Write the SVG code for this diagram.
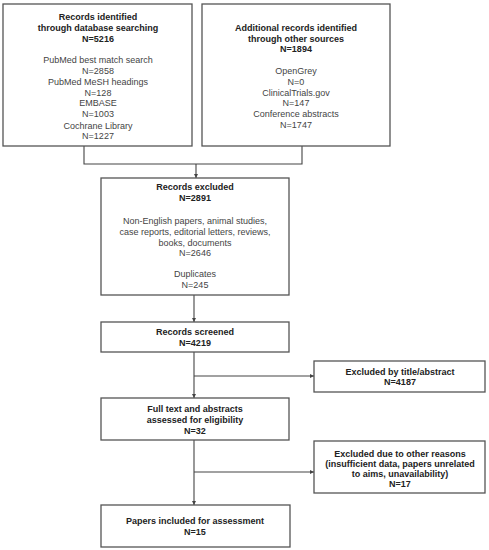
<svg xmlns="http://www.w3.org/2000/svg" width="489" height="550" viewBox="0 0 489 550">
<style>
.box{fill:#fff;stroke:#555;stroke-width:1.3}
.b{font-family:"Liberation Sans",Arial,sans-serif;font-size:9px;font-weight:bold;fill:#222;text-anchor:middle}
.r{font-family:"Liberation Sans",Arial,sans-serif;font-size:9px;fill:#444;text-anchor:middle}
.ln{fill:none;stroke:#444;stroke-width:1.1}
</style>
<defs>
<marker id="ah" viewBox="0 0 6 6" refX="6" refY="3" markerWidth="4" markerHeight="4" orient="auto" markerUnits="userSpaceOnUse">
<path d="M0,0 L6,3 L0,6 z" fill="#444"/>
</marker>
</defs>
<rect width="489" height="550" fill="#fff"/>
<g id="connectors">
<path class="ln" d="M84,146 V164 H302 V146"/>
<path class="ln" d="M196,164 V178" marker-end="url(#ah)"/>
<path class="ln" d="M194,295 V322" marker-end="url(#ah)"/>
<path class="ln" d="M194,352 V398" marker-end="url(#ah)"/>
<path class="ln" d="M194,376 H314" marker-end="url(#ah)"/>
<path class="ln" d="M194,440 V505" marker-end="url(#ah)"/>
<path class="ln" d="M194,472 H314" marker-end="url(#ah)"/>
</g>
<g id="db">
<rect class="box" x="3" y="4" width="189" height="142"/>
<text class="b" x="98" y="20">Records identified</text>
<text class="b" x="98" y="31">through database searching</text>
<text class="b" x="98" y="41.5">N=5216</text>
<text class="r" x="98" y="63">PubMed best match search</text>
<text class="r" x="98" y="74">N=2858</text>
<text class="r" x="98" y="85">PubMed MeSH headings</text>
<text class="r" x="98" y="95.5">N=128</text>
<text class="r" x="98" y="106">EMBASE</text>
<text class="r" x="98" y="117">N=1003</text>
<text class="r" x="98" y="128.5">Cochrane Library</text>
<text class="r" x="98" y="139">N=1227</text>
</g>
<g id="other">
<rect class="box" x="202" y="4" width="188" height="142"/>
<text class="b" x="296" y="31">Additional records identified</text>
<text class="b" x="296" y="41.5">through other sources</text>
<text class="b" x="296" y="52">N=1894</text>
<text class="r" x="296" y="74">OpenGrey</text>
<text class="r" x="296" y="84.5">N=0</text>
<text class="r" x="296" y="95.5">ClinicalTrials.gov</text>
<text class="r" x="296" y="106">N=147</text>
<text class="r" x="296" y="117">Conference abstracts</text>
<text class="r" x="296" y="127.5">N=1747</text>
</g>
<g id="excluded">
<rect class="box" x="101" y="178" width="188" height="117"/>
<text class="b" x="195" y="190">Records excluded</text>
<text class="b" x="195" y="201">N=2891</text>
<text class="r" x="195" y="224">Non-English papers, animal studies,</text>
<text class="r" x="195" y="235">case reports, editorial letters, reviews,</text>
<text class="r" x="195" y="245.5">books, documents</text>
<text class="r" x="195" y="256">N=2646</text>
<text class="r" x="195" y="277">Duplicates</text>
<text class="r" x="195" y="288">N=245</text>
</g>
<g id="screened">
<rect class="box" x="101" y="322" width="188" height="30"/>
<text class="b" x="195" y="335">Records screened</text>
<text class="b" x="195" y="345.5">N=4219</text>
</g>
<g id="title">
<rect class="box" x="314" y="361" width="171" height="31"/>
<text class="b" x="400" y="374.5">Excluded by title/abstract</text>
<text class="b" x="400" y="385">N=4187</text>
</g>
<g id="fulltext">
<rect class="box" x="101" y="398" width="188" height="42"/>
<text class="b" x="195" y="412">Full text and abstracts</text>
<text class="b" x="195" y="423">assessed for eligibility</text>
<text class="b" x="195" y="434">N=32</text>
</g>
<g id="other-reasons">
<rect class="box" x="314" y="441" width="171" height="52"/>
<text class="b" x="400" y="457">Excluded due to other reasons</text>
<text class="b" x="400" y="467">(insufficient data, papers unrelated</text>
<text class="b" x="400" y="476.5">to aims, unavailability)</text>
<text class="b" x="400" y="486.5">N=17</text>
</g>
<g id="included">
<rect class="box" x="101" y="505" width="189" height="42"/>
<text class="b" x="195" y="524">Papers included for assessment</text>
<text class="b" x="195" y="535">N=15</text>
</g>
</svg>
